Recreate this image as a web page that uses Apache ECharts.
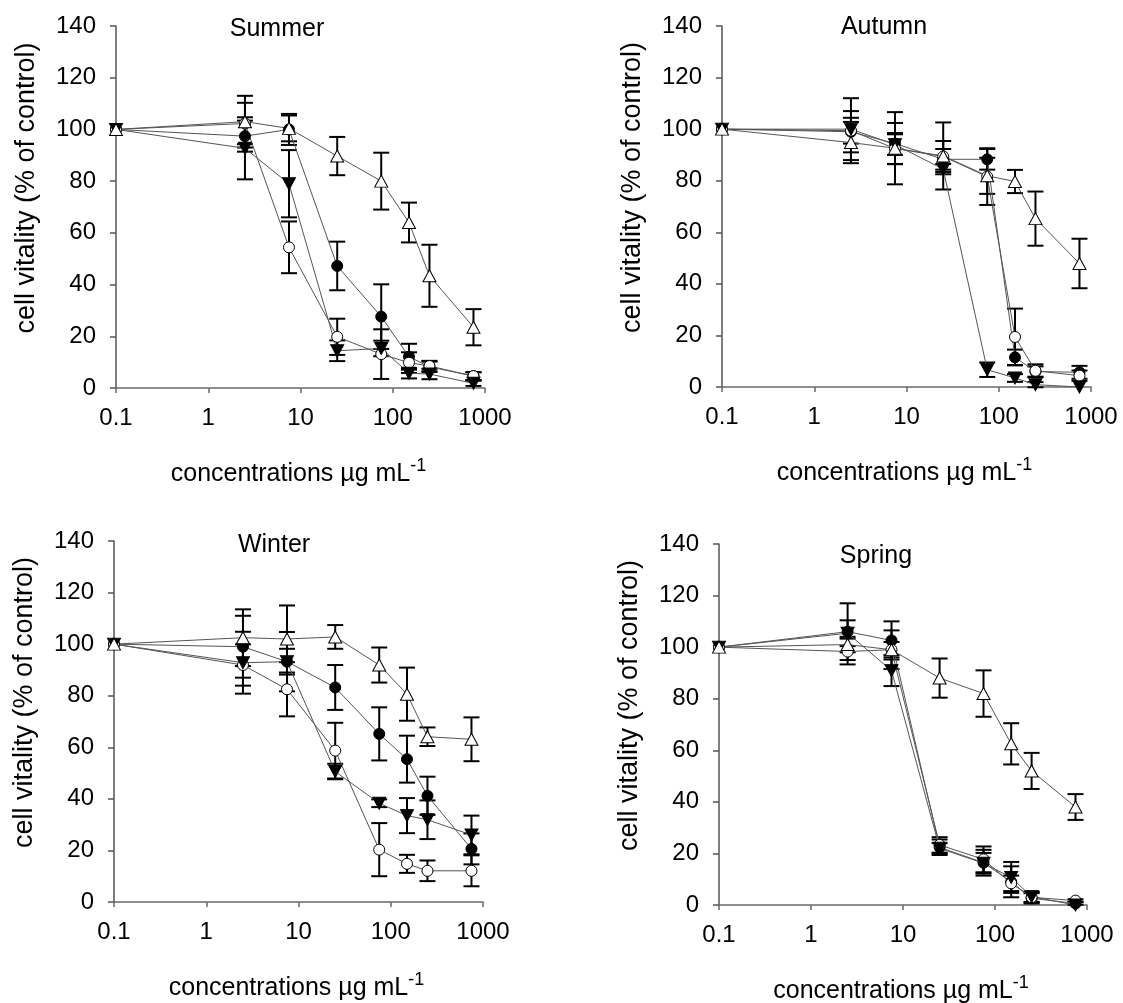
<!DOCTYPE html>
<html>
<head>
<meta charset="utf-8">
<script src="https://cdn.jsdelivr.net/npm/echarts@6/dist/echarts.min.js"></script>
<style>
html, body { margin: 0; padding: 0; background: #fff; }
#chart { width: 1123px; height: 1003px; }
</style>
</head>
<body>
<div id="chart"></div>
<script>
// concentrations (µg/mL), same for all panels
const conc = [0.1, 2.5, 7.5, 25, 75, 150, 250, 750];
const seasons = ['Summer', 'Autumn', 'Winter', 'Spring'];
const xTicks = [0.1, 1, 10, 100, 1000];
const yTicks = [0, 20, 40, 60, 80, 100, 120, 140];

// order of rows: filled circle, open circle, filled down-triangle, open up-triangle
const summerVals = [
  [100, 97.4, 100, 47.2, 27.6, 12.1, 8.2, 4.6],
  [100, 102.3, 54.4, 19.8, 13.1, 9.8, 8.5, 4.6],
  [100, 92.7, 79, 14.4, 15.3, 5.7, 5.4, 1.8],
  [100, 103, 100.4, 89.7, 80, 64, 43.4, 23.5]
];
const summerErr = [
  [0, 6, 6, 9.4, 12.5, 5, 2, 1.5],
  [0, 8, 10, 7, 9.6, 4, 2, 1.5],
  [0, 12, 13, 4, 3, 2, 2, 1],
  [0, 10, 5, 7.4, 11, 7.7, 12, 7]
];
const autumnVals = [
  [100, 99, 94.4, 88.3, 88.3, 11.5, 6, 5.7],
  [100, 99.4, 92.5, 89.4, 81.6, 19.4, 6.3, 4.4],
  [100, 100, 94, 84.5, 6.7, 3.5, 0.9, 0],
  [100, 94.8, 92.6, 89.6, 81.9, 79.7, 65.3, 47.9]
];
const autumnErr = [
  [0, 8, 8, 4, 4, 3, 2, 2.5],
  [0, 5, 6, 6, 11, 11, 2.5, 2],
  [0, 12, 4, 2, 2.8, 1.5, 1, 0],
  [0, 8, 14, 13, 7, 4.5, 10.5, 9.6]
];
const winterVals = [
  [100, 99, 93.2, 83.2, 65.2, 55.4, 41.2, 20.6],
  [100, 91.9, 82.5, 58.7, 20.3, 14.8, 12.1, 12.1],
  [100, 92.8, 93.2, 50.6, 38.3, 33.5, 31.9, 26],
  [100, 102.5, 102, 102.8, 91.9, 80.6, 64.1, 63.1]
];
const winterErr = [
  [0, 12, 5, 8.7, 10.3, 9.1, 7.4, 6],
  [0, 8, 10.5, 10.8, 10.3, 3.5, 4, 6],
  [0, 12, 11.5, 3, 1.5, 6.8, 7.5, 7.5],
  [0, 11, 13, 4.6, 6.8, 10.3, 3.6, 8.5]
];
const springVals = [
  [100, 106, 102.6, 22.4, 16.4, 9, 2.6, 0.6],
  [100, 98.3, 99, 23.3, 17.7, 8.4, 3, 1.7],
  [100, 105.4, 90.9, 22, 16.2, 10.7, 3.2, 0],
  [100, 101, 99, 88, 82, 62.5, 52, 38]
];
const springErr = [
  [0, 11, 7.4, 3, 5, 6, 2, 0.5],
  [0, 5, 7.5, 3, 5, 3, 2, 0.5],
  [0, 5, 6, 2, 4, 6, 2, 0],
  [0, 3, 3, 7.6, 9, 8, 7, 5]
];

const allVals = [summerVals, autumnVals, winterVals, springVals];
const allErr = [summerErr, autumnErr, winterErr, springErr];

// plot areas (px)
const grids = [
  { left: 116, top: 26, width: 369, height: 362 },
  { left: 722, top: 26, width: 369, height: 361 },
  { left: 114, top: 541, width: 369, height: 361 },
  { left: 719, top: 544, width: 368, height: 361 }
];
// panel title centres
const titlePos = [[277, 29], [884, 27], [274, 545], [876, 556]];

const markers = [
  { symbol: 'circle', size: 11, fill: '#000', rotate: 0 },
  { symbol: 'circle', size: 11, fill: '#fff', rotate: 0 },
  { symbol: 'triangle', size: [13, 12], fill: '#000', rotate: 180 },
  { symbol: 'triangle', size: [13, 12], fill: '#fff', rotate: 0 }
];

const font = 'Liberation Sans, Arial, sans-serif';

function renderErr(params, api) {
  const x = api.value(0);
  const lo = api.value(1);
  const hi = api.value(2);
  const p1 = api.coord([x, hi]);
  const p2 = api.coord([x, lo]);
  const w = 8;
  const st = { stroke: '#000', lineWidth: 2 };
  return {
    type: 'group',
    children: [
      { type: 'line', shape: { x1: p1[0], y1: p1[1], x2: p2[0], y2: p2[1] }, style: st },
      { type: 'line', shape: { x1: p1[0] - w, y1: p1[1], x2: p1[0] + w, y2: p1[1] }, style: st },
      { type: 'line', shape: { x1: p2[0] - w, y1: p2[1], x2: p2[0] + w, y2: p2[1] }, style: st }
    ]
  };
}

const option = {
  animation: false,
  backgroundColor: '#fff',
  grid: [],
  xAxis: [],
  yAxis: [],
  series: [],
  graphic: []
};

grids.forEach((g, i) => {
  option.grid.push(g);
  option.xAxis.push({
    type: 'log', logBase: 10, gridIndex: i,
    min: xTicks[0], max: xTicks[xTicks.length - 1],
    splitNumber: xTicks.length - 1,
    axisLine: { lineStyle: { color: '#6a6a6a', width: 1.5 } },
    axisTick: { inside: false, length: 5, lineStyle: { color: '#6a6a6a', width: 1.5 } },
    axisLabel: {
      margin: 18, color: '#000', fontSize: 24, fontFamily: font,
      formatter: v => String(Number(v.toPrecision(6)))
    },
    splitLine: { show: false }
  });
  option.yAxis.push({
    type: 'value', gridIndex: i,
    min: yTicks[0], max: yTicks[yTicks.length - 1], interval: yTicks[1] - yTicks[0],
    axisLine: { show: true, lineStyle: { color: '#555', width: 1.5 } },
    axisTick: { show: true, inside: false, length: 6, lineStyle: { color: '#555', width: 1.5 } },
    axisLabel: { margin: 20, color: '#000', fontSize: 24, fontFamily: font },
    splitLine: { show: false }
  });

  const vals = allVals[i];
  const errs = allErr[i];

  // error bars
  vals.forEach((row, k) => {
    const d = [];
    row.forEach((v, j) => {
      if (errs[k][j] > 0) d.push([conc[j], v - errs[k][j], v + errs[k][j]]);
    });
    option.series.push({
      type: 'custom', xAxisIndex: i, yAxisIndex: i,
      renderItem: renderErr, data: d, z: 2, clip: false,
      encode: { x: 0, y: [1, 2] }
    });
  });

  // curves with markers
  vals.forEach((row, k) => {
    const m = markers[k];
    option.series.push({
      type: 'line', xAxisIndex: i, yAxisIndex: i,
      data: row.map((v, j) => [conc[j], v]),
      symbol: m.symbol, symbolSize: m.size, symbolRotate: m.rotate,
      showAllSymbol: true, clip: false, z: 3,
      lineStyle: { color: '#555', width: 1 },
      itemStyle: { color: m.fill, borderColor: '#000', borderWidth: 1 }
    });
  });

  const cx = g.left + g.width / 2;
  // panel title
  option.graphic.push({
    type: 'text', x: titlePos[i][0], y: titlePos[i][1],
    style: {
      text: seasons[i], font: '25px ' + font, fill: '#000',
      textAlign: 'center', textVerticalAlign: 'middle'
    }
  });
  // y axis title
  option.graphic.push({
    type: 'text', x: g.left - 89, y: g.top + g.height / 2 - 19, rotation: Math.PI / 2,
    style: {
      text: 'cell vitality (% of control)', font: '27px ' + font, fill: '#000',
      textAlign: 'center', textVerticalAlign: 'middle'
    }
  });
  // x axis title
  option.graphic.push({
    type: 'text', x: cx - 2, y: g.top + g.height + 86,
    style: {
      text: '{a|concentrations µg mL}{s|-1}',
      textAlign: 'center', textVerticalAlign: 'middle',
      rich: {
        a: { fontSize: 25, fontFamily: font, color: '#000', lineHeight: 34 },
        s: { fontSize: 18, fontFamily: font, color: '#000', lineHeight: 18, verticalAlign: 'top' }
      }
    }
  });
});

const chart = echarts.init(document.getElementById('chart'), null, { renderer: 'canvas' });
chart.setOption(option);
</script>
</body>
</html>
